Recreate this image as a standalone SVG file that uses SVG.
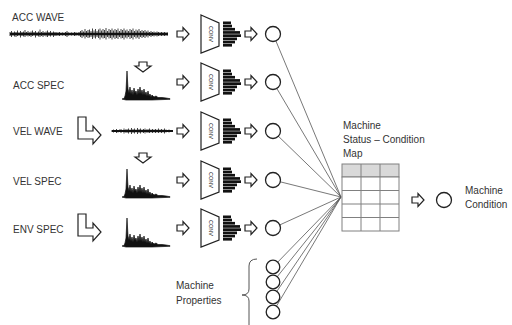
<svg xmlns="http://www.w3.org/2000/svg" xmlns:xlink="http://www.w3.org/1999/xlink" width="512" height="325" viewBox="0 0 512 325">
<style>
text{font-family:"Liberation Sans",Arial,sans-serif;font-size:10px;fill:#333}
.ol{fill:#fff;stroke:#222;stroke-width:1.2;stroke-linejoin:miter}
.nd{fill:#fff;stroke:#222;stroke-width:1.3}
.cv{font-size:5.5px;fill:#222}
.wave{fill:none;stroke:#111;stroke-width:0.8}
.spec{fill:#111;stroke:#111;stroke-width:0.7;stroke-linejoin:round}
.cn line{stroke:#555;stroke-width:0.8}
.tb{fill:#fff;stroke:#808080;stroke-width:1}
</style>
<defs>
<path id="arrR" class="ol" d="M0,-3 L6,-3 L6,-6.5 L12,0 L6,6.5 L6,3 L0,3 Z"/>
<path id="arrD" class="ol" d="M-4,0 L4,0 L4,4 L8,4 L0,10 L-8,4 L-4,4 Z"/>
<path id="arrL" class="ol" d="M78,-14 L86,-14 L86,0 L93,0 L93,-5 L101,4 L93,13 L93,8 L78,8 Z"/>
<path id="trap" class="ol" d="M201,-19 L219,-11 L219,12 L201,19 Z"/>
<g id="bars" fill="#111">
<rect x="223" y="-12.5" width="8" height="2.7"/>
<rect x="223" y="-9.3" width="9" height="2.7"/>
<rect x="223" y="-6.1" width="12" height="2.7"/>
<rect x="223" y="-2.9" width="17" height="2.7"/>
<rect x="223" y="0.3" width="18" height="2.7"/>
<rect x="223" y="3.5" width="14" height="2.7"/>
<rect x="223" y="6.7" width="12" height="2.7"/>
<rect x="223" y="9.9" width="9" height="2.7"/>
</g>
<path id="spec" class="spec" d="M0,0 L2,-0.5 L3,-3 L4,-8 L5,-28 L6,-10 L7,-6 L8,-12 L9,-5 L10,-9 L11,-4 L12,-11 L13,-6 L14,-8 L15,-4 L16,-10 L17,-5 L18,-12 L19,-5 L20,-9 L21,-4 L22,-10 L23,-4 L24,-7 L25,-3 L26,-8 L27,-3 L28,-5 L29,-2 L30,-4 L32,-2 L34,-3 L36,-1.5 L40,-1.5 L44,-1 L48,-0.3 L48,0.3 L30,1 L4,1 Z"/>
</defs>

<g id="connectors" class="cn">
<line x1="273" y1="34" x2="341" y2="197"/>
<line x1="273" y1="82" x2="341" y2="197"/>
<line x1="273" y1="131" x2="341" y2="197"/>
<line x1="273" y1="180" x2="341" y2="197"/>
<line x1="273" y1="228" x2="341" y2="197"/>
<line x1="273" y1="267" x2="341" y2="197"/>
<line x1="273" y1="282" x2="341" y2="197"/>
<line x1="273" y1="297" x2="341" y2="197"/>
<line x1="273" y1="312" x2="341" y2="197"/>
</g>

<g id="row-acc-wave">
<text x="12" y="21">ACC WAVE</text>
<line x1="10" y1="34" x2="168" y2="34" stroke="#111" stroke-width="2.4"/>
<path class="wave" d="M10,32V36 M11.5,31V37 M13,32.5V35.5 M14.5,31.5V36.5 M16,32V37 M17.5,30.5V36 M19,32.5V35.5 M20.5,31V37.5 M22,32V36 M23.5,31.5V36.5 M25,30V37 M26.5,32V35.5 M28,31V36.5 M29.5,32.5V36 M31,31.5V37 M32.5,30.5V36 M34,32V35.5 M35.5,31V37.5 M37,32.5V36 M38.5,31.5V36.5 M40,29.5V37 M41.5,32V36 M43,31V37 M44.5,32.5V35.5 M46,31.5V36.5 M47.5,30.5V37 M49,32V36 M50.5,31V36.5 M52,32.5V35.5 M53.5,31.5V37 M55,32V36 M56.5,32.5V35.5 M58,32.5V35.5 M59.5,32V36 M61,33V35 M62.5,32.5V35.5 M64,33V35 M65.5,32V36 M67,31V37 M68.5,32.5V35.5 M70,33V35 M71.5,32.5V35.5 M73,33V35 M74.5,32V36 M76,32.5V35.5 M77.5,33V35 M79,32V36 M80.5,31V37 M82,30V38 M83.5,31.5V36.5 M85,29V38.5 M86.5,31V37 M88,30V38 M89.5,29.5V37.5 M91,31V37 M92.5,28.5V39 M94,30.5V37.5 M95.5,29V38.5 M97,31V37 M98.5,29.5V38 M100,28.5V39.5 M101.5,30.5V37.5 M103,29V38.5 M104.5,30V38 M106,28V39.5 M107.5,31V37 M109,29V38.5 M110.5,30V38 M112,28.5V39.5 M113.5,30.5V37.5 M115,29V39 M116.5,30V38 M118,28.5V39 M119.5,31V37 M121,29V38.5 M122.5,30V38 M124,28.5V39.5 M125.5,30.5V37.5 M127,29.5V38.5 M128.5,31V37 M130,29V39 M131.5,30V38 M133,28.5V39.5 M134.5,31V37 M136,29.5V38.5 M137.5,30.5V37.5 M139,29V39 M140.5,31V37 M142,30V38 M143.5,31V37 M145,30V38 M146.5,31.5V36.5 M148,30.5V37.5 M149.5,32V36 M151,31V37 M152.5,32V36 M154,31.5V36.5 M155.5,32.5V35.5 M157,31.5V36.5 M158.5,32V36 M160,32.5V35.5 M161.5,32V36 M163,32.5V35.5 M164.5,32V36 M166,32.5V35.5 M167.5,32.5V35.5"/>
</g>

<g id="row-acc-spec">
<text x="13" y="89">ACC SPEC</text>
<use xlink:href="#spec" transform="translate(122,99)"/>
</g>

<g id="row-vel-wave">
<text x="13" y="135">VEL WAVE</text>
<line x1="112" y1="131" x2="173" y2="131" stroke="#111" stroke-width="2"/>
<path class="wave" d="M112,130V132 M113.5,129.5V132.5 M115,130V132 M116.5,129V133 M118,130V132.5 M119.5,129.5V132 M121,129V133 M122.5,130V132 M124,128.5V133.5 M125.5,129.5V132.5 M127,129V133 M128.5,128.5V133.5 M130,129.5V132.5 M131.5,128V134 M133,129V133 M134.5,128.5V133.5 M136,129.5V132.5 M137.5,128V134 M139,129V133 M140.5,128.5V133.5 M142,129.5V132.5 M143.5,129V133 M145,128.5V133.5 M146.5,129.5V132.5 M148,129V133 M149.5,128.5V133 M151,129.5V132.5 M152.5,129V133 M154,129.5V132.5 M155.5,129V133 M157,129.5V132.5 M158.5,128.5V133 M160,129.5V132.5 M161.5,129V133 M163,129.5V132.5 M164.5,128.5V133.5 M166,129.5V132.5 M167.5,130V132 M169,129.5V132.5 M170.5,130V132 M172,130V132"/>
<use xlink:href="#arrL" transform="translate(0,131)"/>
</g>

<g id="row-vel-spec">
<text x="13" y="185">VEL SPEC</text>
<use xlink:href="#spec" transform="translate(122,197)"/>
</g>

<g id="row-env-spec">
<text x="13" y="233">ENV SPEC</text>
<use xlink:href="#spec" transform="translate(122,246)"/>
<use xlink:href="#arrL" transform="translate(0,228)"/>
</g>

<g id="down-arrows">
<use xlink:href="#arrD" transform="translate(143,62)"/>
<use xlink:href="#arrD" transform="translate(143,153)"/>
</g>

<g id="conv-1" transform="translate(0,34)">
<use xlink:href="#arrR" transform="translate(177,0)"/>
<use xlink:href="#trap"/>
<text class="cv" transform="translate(208.5,0) rotate(90)" text-anchor="middle">CONV</text>
<use xlink:href="#bars"/>
<use xlink:href="#arrR" transform="translate(245,0)"/>
</g>
<g id="conv-2" transform="translate(0,82)">
<use xlink:href="#arrR" transform="translate(177,0)"/>
<use xlink:href="#trap"/>
<text class="cv" transform="translate(208.5,0) rotate(90)" text-anchor="middle">CONV</text>
<use xlink:href="#bars"/>
<use xlink:href="#arrR" transform="translate(245,0)"/>
</g>
<g id="conv-3" transform="translate(0,131)">
<use xlink:href="#arrR" transform="translate(177,0)"/>
<use xlink:href="#trap"/>
<text class="cv" transform="translate(208.5,0) rotate(90)" text-anchor="middle">CONV</text>
<use xlink:href="#bars"/>
<use xlink:href="#arrR" transform="translate(245,0)"/>
</g>
<g id="conv-4" transform="translate(0,180)">
<use xlink:href="#arrR" transform="translate(177,0)"/>
<use xlink:href="#trap"/>
<text class="cv" transform="translate(208.5,0) rotate(90)" text-anchor="middle">CONV</text>
<use xlink:href="#bars"/>
<use xlink:href="#arrR" transform="translate(245,0)"/>
</g>
<g id="conv-5" transform="translate(0,228)">
<use xlink:href="#arrR" transform="translate(177,0)"/>
<use xlink:href="#trap"/>
<text class="cv" transform="translate(208.5,0) rotate(90)" text-anchor="middle">CONV</text>
<use xlink:href="#bars"/>
<use xlink:href="#arrR" transform="translate(245,0)"/>
</g>

<g id="feature-nodes">
<circle class="nd" cx="273" cy="34" r="7.5"/>
<circle class="nd" cx="273" cy="82" r="7.5"/>
<circle class="nd" cx="273" cy="131" r="7.5"/>
<circle class="nd" cx="273" cy="180" r="7.5"/>
<circle class="nd" cx="273" cy="228" r="7.5"/>
</g>

<g id="machine-properties">
<text x="176" y="289">Machine</text>
<text x="176" y="304">Properties</text>
<path d="M257,259 Q249,259 249,266 L249,289 Q249,295 242,295 Q249,295 249,301 L249,330" fill="none" stroke="#555" stroke-width="1"/>
<circle class="nd" cx="273" cy="267" r="6.8"/>
<circle class="nd" cx="273" cy="282" r="6.8"/>
<circle class="nd" cx="273" cy="297" r="6.8"/>
<circle class="nd" cx="273" cy="312" r="6.8"/>
</g>

<g id="status-map">
<text x="343" y="129">Machine</text>
<text x="343" y="143">Status – Condition</text>
<text x="343" y="157">Map</text>
<rect x="342" y="164" width="57" height="13" fill="#d9d9d9" stroke="#808080"/>
<rect class="tb" x="342" y="177" width="57" height="54"/>
<g stroke="#808080" stroke-width="1">
<line x1="342" y1="190.5" x2="399" y2="190.5"/>
<line x1="342" y1="204" x2="399" y2="204"/>
<line x1="342" y1="217.5" x2="399" y2="217.5"/>
<line x1="361" y1="164" x2="361" y2="231"/>
<line x1="380" y1="164" x2="380" y2="231"/>
</g>
</g>

<g id="machine-condition">
<use xlink:href="#arrR" transform="translate(412,200)"/>
<circle class="nd" cx="444" cy="200" r="7.5"/>
<text x="465" y="194">Machine</text>
<text x="465" y="208">Condition</text>
</g>
</svg>
